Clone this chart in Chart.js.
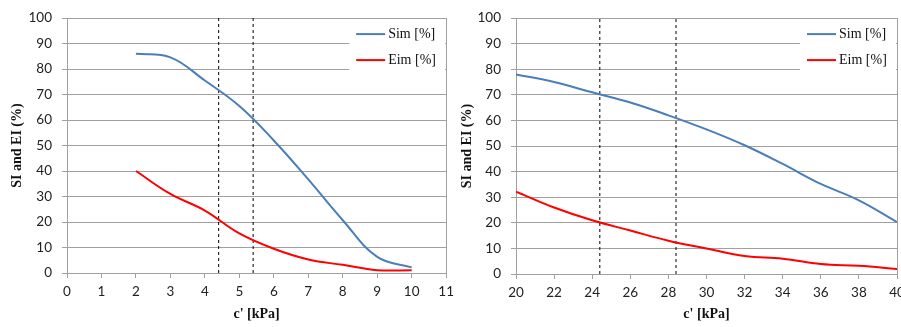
<!DOCTYPE html>
<html>
<head>
<meta charset="utf-8">
<script src="https://cdn.jsdelivr.net/npm/chart.js@4/dist/chart.umd.min.js"></script>
<style>
  html, body { margin: 0; padding: 0; width: 901px; height: 327px; overflow: hidden; background: #fff; }
  .box { position: absolute; top: 0; height: 327px; }
  #leftBox { left: 0; width: 460px; }
  #rightBox { left: 450px; width: 470px; }
</style>
</head>
<body>
<div class="box" id="leftBox"><canvas id="leftChart" width="460" height="327"></canvas></div>
<div class="box" id="rightBox"><canvas id="rightChart" width="470" height="327"></canvas></div>
<script>
// ---- Left panel: c' from 2 to 10 kPa ----
const leftC = [2, 3, 4, 5, 6, 7, 8, 9, 10];
const leftSim = [86, 84.6, 75.5, 65.5, 52, 36.7, 20.7, 6.3, 2.2];
const leftEim = [40, 31, 24.5, 15.5, 9.5, 5.3, 3.2, 1.1, 1.1];
const leftMarkers = [4.4, 5.4];

// ---- Right panel: c' from 20 to 40 kPa ----
const rightC = [20, 22, 24, 26, 28, 30, 32, 34, 36, 38, 40];
const rightSim = [78, 75, 71, 67, 62, 56.5, 50.3, 43, 35.2, 28.8, 20.3];
const rightEim = [32.2, 26, 21, 17, 13, 10, 7, 6, 3.9, 3.2, 2];
const rightMarkers = [24.4, 28.4];

const seriesLabels = ['Sim [%]', 'Eim [%]'];
const xTitle = "c' [kPa]";
const yTitle = 'SI and EI (%)';

const BLUE = '#4a7ebb';
const RED = '#ff0000';
const GRID = '#a0a0a0';
const TICK_FONT = { family: 'Lato', size: 13.5 };
const TITLE_FONT = { family: 'Liberation Serif', size: 14, weight: 'bold' };

function pairs(xs, ys) { return xs.map((x, i) => ({ x: x, y: ys[i] })); }

// In-plot legend drawn on a white panel in the top-right corner
const boxLegend = {
  id: 'boxLegend',
  afterDatasetsDraw(chart) {
    const { ctx, chartArea } = chart;
    const left = chartArea.right - 97, top = chartArea.top + 1;
    ctx.save();
    ctx.fillStyle = '#fff';
    ctx.fillRect(left, top, 96, 53);
    const items = chart.data.datasets.filter(d => d.inLegend);
    items.forEach((d, i) => {
      const y = top + 15 + i * 26;
      ctx.strokeStyle = d.borderColor;
      ctx.lineWidth = 2;
      ctx.beginPath();
      ctx.moveTo(left + 7, y);
      ctx.lineTo(left + 36, y);
      ctx.stroke();
      ctx.fillStyle = '#111';
      ctx.font = '14px "Liberation Serif"';
      ctx.textBaseline = 'middle';
      ctx.fillText(d.label, left + 39, y);
    });
    ctx.restore();
  }
};

function makeChart(id, xs, sim, eim, markers, xMin, xMax, xStep, padRight, yWidth, padTop, xHeight) {
  const datasets = [
    { label: seriesLabels[0], data: pairs(xs, sim), borderColor: BLUE, borderWidth: 2, tension: 0.4, pointRadius: 0, inLegend: true },
    { label: seriesLabels[1], data: pairs(xs, eim), borderColor: RED, borderWidth: 2, tension: 0.4, pointRadius: 0, inLegend: true }
  ];
  markers.forEach(m => {
    datasets.push({ label: 'c=' + m, data: [{ x: m, y: 0 }, { x: m, y: 100 }], borderColor: '#000', borderWidth: 1, borderDash: [3, 3], pointRadius: 0, inLegend: false });
  });
  return new Chart(document.getElementById(id), {
    type: 'line',
    data: { datasets: datasets },
    options: {
      responsive: false,
      animation: false,
      layout: { padding: { left: 0, right: padRight, top: padTop, bottom: 0 } },
      plugins: { legend: { display: false }, tooltip: { enabled: false } },
      scales: {
        x: {
          type: 'linear', min: xMin, max: xMax,
          afterFit(s) { s.height = xHeight; },
          ticks: { stepSize: xStep, font: TICK_FONT, color: '#222', padding: 6, maxRotation: 0, autoSkip: false },
          grid: {
            color: c => (c.tick && c.tick.value === xMax) ? GRID : 'rgba(0,0,0,0)',
            tickColor: GRID, tickLength: 5, lineWidth: 1
          },
          border: { color: GRID, width: 1 },
          title: { display: true, text: xTitle, font: TITLE_FONT, color: '#111', padding: { top: 0, bottom: 4 } }
        },
        y: {
          min: 0, max: 100,
          afterFit(s) { s.width = yWidth; },
          ticks: { stepSize: 10, font: TICK_FONT, color: '#222', padding: 10 },
          grid: { color: GRID, tickColor: GRID, tickLength: 5, lineWidth: 1 },
          border: { color: GRID, width: 1 },
          title: { display: true, text: yTitle, font: TITLE_FONT, color: '#111', padding: { top: 9, bottom: 0 } }
        }
      }
    },
    plugins: [boxLegend]
  });
}

makeChart('leftChart', leftC, leftSim, leftEim, leftMarkers, 0, 11, 1, 13, 67, 15, 54);
makeChart('rightChart', rightC, rightSim, rightEim, rightMarkers, 20, 40, 2, 23, 66, 17, 53);
</script>
</body>
</html>
